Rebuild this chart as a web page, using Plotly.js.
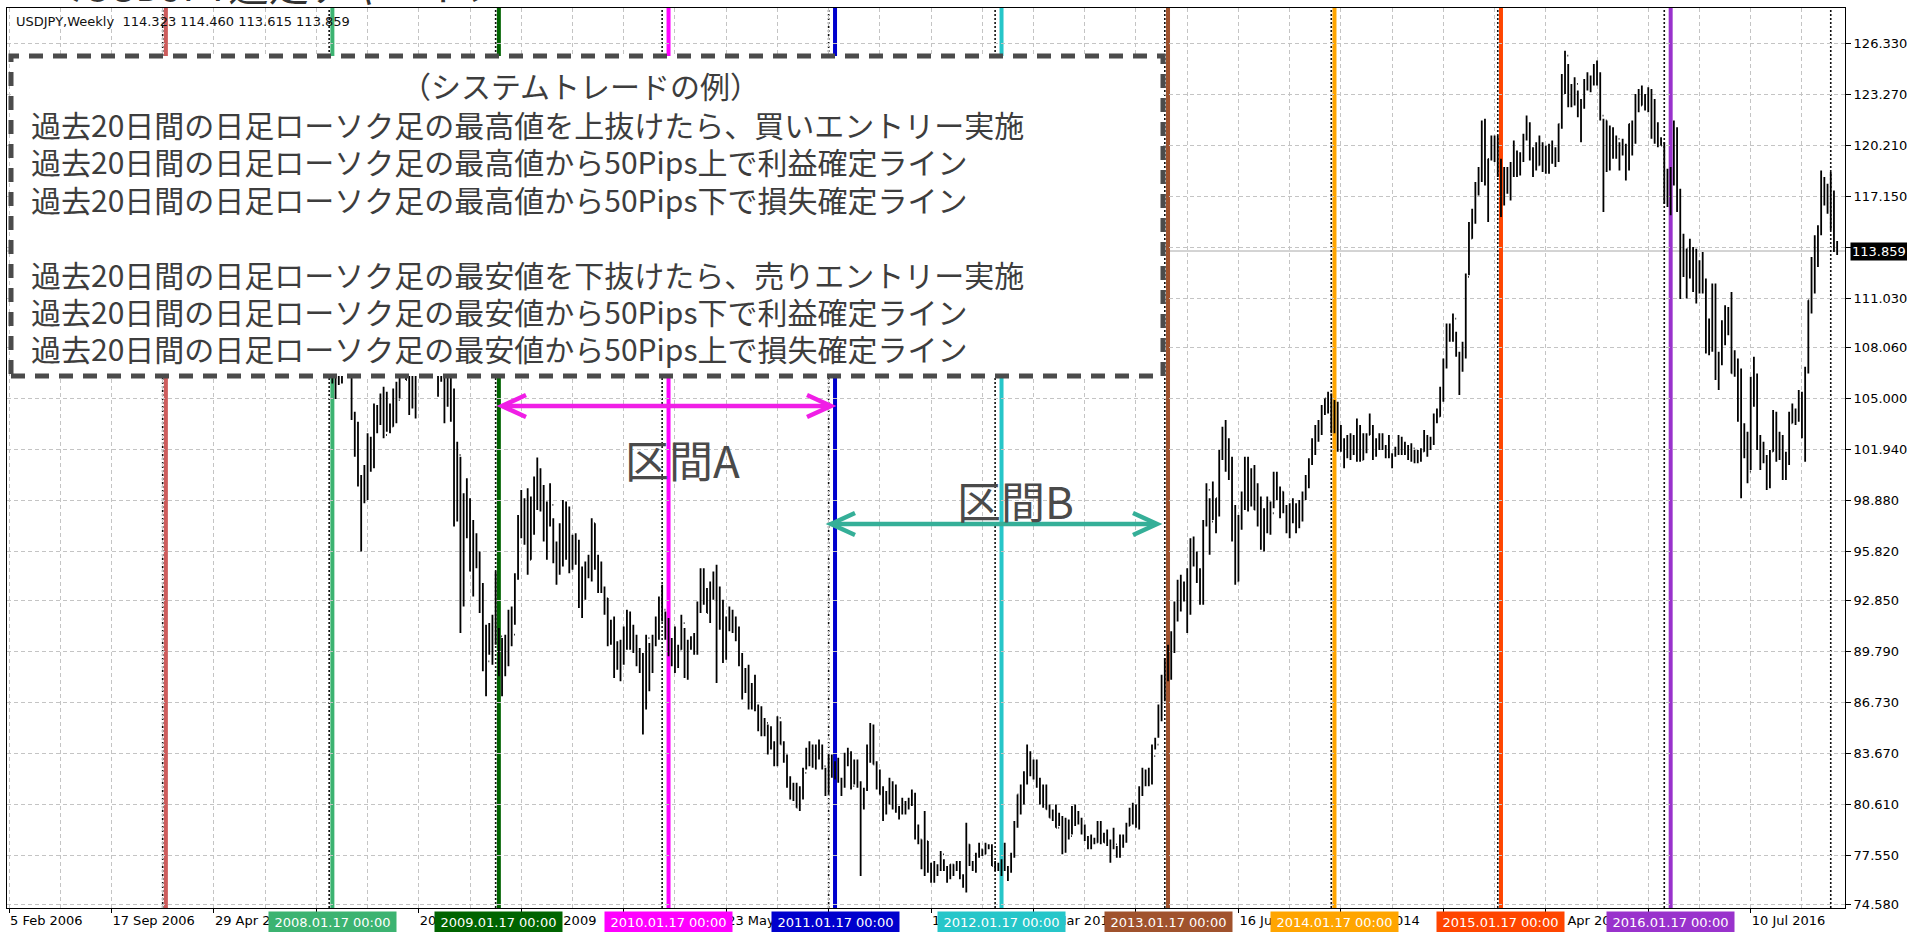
<!DOCTYPE html>
<html>
<head>
<meta charset="utf-8">
<script src="https://cdn.plot.ly/plotly-3.0.1.min.js"></script>
<style>
html,body{margin:0;padding:0;background:#fff;overflow:hidden}
#chart{width:1907px;height:932px}
</style>
</head>
<body>
<div id="chart"></div>
<script>
// ---------------- DATA (USDJPY weekly bars) ----------------
const weekStart = '2008-01-06';   // date of the first weekly bar below
const firstOpen = 109.2;
const weekHigh = [
// 2008
110.2,109.6,107.9,107.3,107.8,108.6,108.3,107.9,104.2,103.6,100.4,101.0,102.9,102.7,104.7,104.6,105.3,105.7,105.4,104.7,105.6,106.0,108.3,108.6,108.3,106.6,107.5,106.8,108.2,108.3,110.2,110.7,110.2,110.0,108.9,108.3,107.7,107.4,106.3,105.6,102.4,101.5,99.3,100.2,99.0,97.7,96.9,95.8,93.9,91.4,91.5,92.0,
// 2009
94.6,91.2,90.6,90.8,92.3,92.5,94.5,98.0,99.5,99.0,99.6,99.1,100.3,101.45,100.8,99.8,98.8,99.9,97.8,96.4,97.5,98.9,98.8,98.5,96.8,96.9,96.5,94.9,95.2,95.6,97.8,97.5,95.6,95.2,93.7,93.0,91.7,91.9,90.4,90.5,91.3,92.3,92.2,91.4,90.8,90.0,89.7,90.8,90.3,90.8,91.9,93.1,
// 2010
93.8,92.2,91.8,90.6,91.3,90.2,92.0,91.2,90.5,90.7,90.9,92.8,94.8,94.8,93.6,94.0,94.6,95.0,93.7,92.9,91.9,92.5,92.3,91.9,91.3,89.7,88.8,89.0,87.9,88.4,86.6,86.5,85.8,85.4,85.3,84.4,85.9,85.6,84.4,83.6,82.3,81.9,81.9,81.7,82.8,84.0,84.4,84.2,84.2,84.5,84.2,82.8,
// 2011
83.6,83.6,83.2,83.4,82.2,83.7,84.0,83.8,83.3,83.3,82.0,81.6,84.2,85.5,85.4,83.2,82.7,81.7,81.4,82.2,82.0,81.8,80.5,81.0,80.8,81.0,81.5,81.3,79.4,78.5,80.2,78.4,77.1,77.2,77.0,77.8,77.3,76.9,77.0,77.0,77.2,77.2,76.4,79.5,78.2,77.2,77.7,78.3,77.9,78.3,78.2,78.2,
// 2012
77.2,77.1,77.3,78.3,76.9,77.7,79.6,81.2,81.8,82.6,84.2,83.8,83.3,83.3,82.2,81.8,81.8,80.6,80.3,80.6,80.1,79.9,79.8,79.7,80.5,80.6,80.2,79.8,79.4,78.7,78.8,78.6,79.6,79.6,78.9,79.1,78.5,79.2,78.1,78.8,78.8,79.5,80.4,80.7,80.6,81.7,82.8,82.7,82.8,84.2,84.6,86.6,
// 2013
88.4,89.4,90.2,91.0,92.8,94.1,94.4,94.0,94.8,96.6,96.7,95.8,94.8,97.7,99.9,99.0,100.0,99.0,101.9,103.3,103.7,102.6,101.5,98.6,98.0,99.4,101.5,101.5,100.8,101.0,99.9,99.1,98.4,99.1,98.8,100.6,100.6,99.7,99.4,98.6,98.7,99.0,98.7,98.9,99.4,100.4,101.4,102.6,103.4,103.7,104.6,105.0,
// 2014
105.4,105.3,104.9,104.8,103.4,102.6,102.8,102.9,102.8,103.8,103.4,102.9,102.9,104.1,103.4,102.6,102.9,102.9,102.2,102.8,101.7,102.1,102.8,102.7,102.4,102.2,102.3,101.9,101.9,102.0,103.1,102.8,102.7,104.1,104.4,105.7,107.4,109.5,109.5,110.1,109.0,107.8,108.4,112.5,115.6,116.4,118.0,118.9,121.7,121.8,119.4,120.8,
// 2015
120.8,120.8,119.4,118.9,118.9,119.2,120.5,119.9,119.8,120.9,122.0,121.6,120.1,120.4,120.8,120.4,120.2,120.3,120.5,120.1,121.5,124.5,125.9,125.1,123.9,124.3,123.5,123.0,124.2,124.6,124.4,125.1,125.3,124.6,121.8,121.7,121.4,121.3,120.8,120.4,120.6,120.3,121.5,121.7,123.3,123.6,123.8,123.3,123.7,123.6,123.0,121.6,
// 2016
120.7,120.4,118.8,118.9,121.7,121.3,117.6,114.9,114.0,114.6,114.1,114.0,113.3,113.8,112.2,109.8,111.9,111.9,107.8,109.7,110.6,110.5,111.4,107.9,107.4,106.8,103.5,103.0,106.3,107.5,106.5,102.8,102.4,101.6,101.9,104.3,104.2,103.0,102.8,101.8,104.2,104.7,104.4,105.5,105.4,106.9,110.9,113.5,114.8,115.4,118.7,118.3,
// 2016-12-25 .. 2017-01-15
117.9,118.6,117.5,114.46
];
const weekLow = [
// 2008
107.5,105.9,104.96,105.8,105.9,107.1,106.9,103.7,101.5,99.7,95.8,98.7,98.9,100.6,100.8,102.9,103.4,102.6,103.0,102.9,103.3,103.5,105.0,107.2,106.1,104.0,104.4,103.8,106.4,107.2,107.5,108.4,108.2,107.7,105.1,106.0,103.5,104.5,103.6,97.3,97.6,90.9,92.5,96.6,94.6,93.1,94.8,92.1,88.6,87.1,89.6,89.0,
// 2009
90.2,88.3,87.1,88.3,88.9,90.1,91.4,94.1,96.6,96.2,94.4,95.3,96.8,98.3,98.2,96.4,95.3,97.3,95.1,93.8,94.4,94.9,95.3,94.5,94.7,95.0,92.4,91.8,92.9,94.2,94.0,94.7,93.3,93.3,92.0,90.1,90.2,88.2,88.7,88.0,89.0,89.9,89.9,89.7,88.9,88.5,84.8,86.3,87.4,88.5,90.1,90.5,
// 2010
91.6,90.5,89.5,88.9,88.5,88.8,89.9,88.2,88.1,89.9,89.6,89.6,92.1,92.6,92.1,91.5,92.9,87.9,91.1,89.1,89.3,91.0,90.9,90.4,88.9,86.9,87.3,86.3,86.3,86.2,85.0,84.7,84.7,83.6,83.9,82.9,82.9,84.2,83.1,81.6,80.9,80.8,80.4,80.2,80.9,82.7,82.9,82.8,82.7,83.3,82.7,81.1,
// 2011
81.2,82.2,82.1,81.9,81.1,81.6,82.9,81.5,81.8,81.6,76.3,80.3,81.4,83.1,83.0,81.5,81.2,79.6,80.0,80.6,80.3,80.1,79.7,80.0,80.0,80.3,80.5,78.5,78.2,76.7,76.3,76.5,75.9,75.9,76.3,76.6,76.6,75.9,76.1,76.3,76.6,76.1,75.6,75.3,76.9,76.6,76.5,77.4,77.5,77.6,77.9,76.9,
// 2012
76.6,76.6,76.3,76.6,76.0,76.5,77.4,79.2,80.0,80.6,81.8,82.3,82.1,81.6,80.6,80.4,80.3,79.8,79.6,79.2,79.3,77.6,77.7,78.5,78.8,79.3,79.4,78.8,78.4,77.9,77.9,78.2,78.3,78.2,78.3,78.1,77.1,77.9,77.4,77.4,78.0,78.3,79.3,79.4,79.2,79.1,81.1,81.7,81.7,81.8,83.9,84.6,
// 2013
85.6,86.8,88.0,88.1,89.7,91.6,92.2,92.8,90.9,92.0,94.9,93.9,92.6,92.6,97.3,95.6,97.7,96.9,97.9,101.3,100.6,100.1,96.4,93.8,94.0,97.1,98.3,98.2,98.5,98.3,97.3,95.9,95.8,96.9,96.8,98.4,98.9,97.8,98.1,96.9,96.6,97.5,96.9,97.2,97.6,98.9,99.6,101.0,101.6,102.4,102.8,104.0,
// 2014
104.1,102.9,102.9,101.8,101.8,100.8,101.4,101.3,101.6,101.2,101.2,101.3,101.7,102.8,101.3,101.5,101.9,101.9,101.4,101.4,100.8,101.5,101.6,101.6,101.6,101.3,101.2,101.1,101.1,101.2,101.8,101.5,101.9,102.2,103.5,103.9,104.8,106.8,108.4,108.4,107.5,105.2,106.6,107.4,112.4,114.6,115.5,117.2,118.0,117.8,115.6,119.3,
// 2015
119.2,118.3,115.9,116.6,117.3,116.9,118.3,118.3,118.4,119.2,120.5,119.3,118.3,118.7,119.0,118.6,118.5,118.5,119.1,118.9,119.2,121.2,123.3,122.5,122.5,122.6,121.9,120.4,122.4,123.5,123.4,123.8,123.8,121.7,116.2,118.6,118.7,119.4,119.4,118.7,119.6,118.1,118.7,119.6,120.3,122.2,122.6,122.3,122.2,120.6,120.3,120.1,
// 2016
120.2,116.7,116.5,116.0,117.8,116.2,110.98,112.3,111.0,112.2,111.4,110.7,111.3,111.3,107.7,107.6,107.8,106.1,105.5,107.0,108.2,108.8,106.5,106.3,103.6,99.0,101.4,99.9,100.7,104.5,101.9,100.7,101.1,99.5,99.6,101.8,101.2,101.3,100.1,100.1,101.0,103.5,103.4,103.6,102.6,101.2,106.5,110.1,111.3,112.9,114.8,116.6,
// 2016-12-25 .. 2017-01-15
116.1,115.1,113.8,113.615
];
const weekClose = [
// 2008
109.3,106.9,106.8,106.5,107.4,107.8,107.0,103.8,102.6,99.9,99.3,99.6,101.9,101.0,103.6,104.4,105.2,102.8,104.6,103.3,105.5,104.9,108.2,107.3,106.1,106.1,105.9,106.9,107.8,107.8,110.0,110.5,110.1,108.8,107.4,107.8,107.4,106.0,105.3,100.5,101.6,94.0,98.5,98.2,96.8,95.6,95.4,93.0,91.3,89.2,90.6,91.9,
// 2009
90.8,90.7,88.8,89.9,92.0,90.8,94.3,97.6,98.2,98.2,95.3,98.0,99.6,100.2,99.2,97.3,98.7,98.6,95.2,94.6,95.4,98.6,98.3,96.0,95.2,95.9,92.8,94.2,94.8,94.7,97.5,94.9,94.4,93.6,93.0,90.7,91.5,89.6,89.4,89.8,90.9,92.0,90.1,89.9,89.9,89.0,86.6,90.6,89.1,90.4,91.6,93.0,
// 2010
92.3,90.8,89.9,90.3,89.2,89.9,91.5,89.0,90.2,90.5,90.5,92.6,94.6,93.2,92.1,93.9,93.8,91.6,92.5,90.0,91.3,91.9,91.6,90.8,89.3,87.7,88.6,86.5,87.4,86.5,85.4,85.2,85.5,84.3,84.2,83.3,85.8,84.2,83.3,82.0,81.4,81.4,80.4,81.3,82.5,83.6,84.1,82.9,83.9,83.9,82.9,81.2,
// 2011
83.2,82.5,82.5,82.1,81.7,83.4,83.1,81.7,82.4,81.9,80.6,81.5,83.9,84.8,83.0,81.8,81.2,80.6,80.8,81.7,80.7,80.4,80.2,80.1,80.4,80.8,80.7,79.1,78.5,76.8,78.4,76.8,76.5,76.6,76.8,77.6,76.7,76.5,77.0,76.7,76.8,76.2,75.8,78.2,77.0,76.9,77.6,77.9,77.6,78.0,78.0,76.9,
// 2012
76.9,76.9,77.0,76.7,76.6,77.6,79.5,81.2,81.1,82.3,83.4,82.4,82.9,81.7,80.9,81.5,80.3,79.8,79.9,79.2,79.7,78.3,79.6,78.7,80.4,79.8,79.6,78.9,78.5,78.2,78.4,78.3,79.5,78.7,78.3,78.3,78.1,78.2,77.9,78.7,78.4,79.3,79.9,80.4,79.5,81.3,82.4,82.5,82.4,83.5,84.2,85.9,
// 2013
88.1,89.2,90.0,90.9,92.7,92.7,93.5,93.4,92.6,96.0,95.3,94.5,94.2,97.5,99.5,97.6,98.0,99.0,101.6,102.2,101.0,100.5,97.5,94.0,97.9,99.1,101.2,99.3,100.4,98.3,98.9,96.2,97.5,98.7,98.1,99.6,99.4,99.4,98.3,97.4,98.6,97.8,97.4,98.7,99.0,100.2,101.3,102.4,102.9,103.2,104.1,105.0,
// 2014
104.8,104.2,104.3,102.3,102.0,102.3,101.8,101.9,101.8,103.3,101.3,102.3,102.8,103.3,101.6,102.4,102.2,102.1,101.8,101.5,101.6,101.8,102.5,102.0,102.0,101.4,102.0,101.3,101.3,101.8,102.6,102.0,102.4,103.8,103.9,105.1,107.3,109.0,109.3,109.8,107.6,106.9,108.1,112.3,114.6,116.2,117.7,118.6,121.4,118.8,119.4,120.5,
// 2015
120.5,118.5,117.5,117.7,117.5,119.1,118.6,119.0,119.6,120.8,121.4,120.0,119.1,119.0,120.2,118.9,118.9,120.2,119.8,119.4,121.5,124.1,125.6,123.4,122.7,123.9,122.8,122.8,124.1,123.8,123.9,124.2,124.3,122.0,121.7,119.0,120.6,120.0,120.6,119.9,120.2,119.4,121.5,120.6,123.2,122.6,122.8,122.8,123.2,121.0,121.2,120.3,
// 2016
120.2,117.2,117.0,118.8,121.1,116.8,112.6,112.6,114.0,113.8,113.8,111.5,113.1,111.7,108.1,108.8,111.8,106.5,107.1,108.6,110.1,110.3,106.5,107.0,104.1,102.2,102.5,100.6,104.9,106.1,102.1,101.8,101.3,100.2,101.8,103.9,102.6,102.3,101.0,101.3,103.5,104.2,103.8,104.7,103.1,106.7,110.9,113.2,113.5,115.2,117.9,117.2,
// 2016-12-25 .. 2017-01-15
117.0,116.9,114.323,113.859
];

// price axis ticks
const yTickVals = [74.58,77.55,80.61,83.67,86.73,89.79,92.85,95.82,98.88,101.94,105.00,108.06,111.03,114.09,117.15,120.21,123.27,126.33];
// time axis labels
const xTickDates = ['2006-02-05','2006-09-17','2007-04-29','2007-12-09','2008-07-20','2009-03-01','2009-10-11','2010-05-23','2011-01-02','2011-08-14','2012-03-25','2012-11-04','2013-06-16','2014-01-26','2014-09-07','2015-04-19','2015-11-29','2016-07-10'];
const xTickLabels = ['5 Feb 2006','17 Sep 2006','29 Apr 2007','9 Dec 2007','20 Jul 2008','1 Mar 2009','11 Oct 2009','23 May 2010','2 Jan 2011','14 Aug 2011','25 Mar 2012','4 Nov 2012','16 Jun 2013','26 Jan 2014','7 Sep 2014','19 Apr 2015','29 Nov 2015','10 Jul 2016'];
// labels that the coloured date boxes cover completely in the reference
const coveredTickLabels = ['9 Dec 2007','2 Jan 2011','4 Nov 2012','7 Sep 2014','29 Nov 2015'];
// yearly vertical lines (bar of 17 Jan) and their labels
const yearLineDates = ['2007-01-14','2008-01-13','2009-01-11','2010-01-17','2011-01-16','2012-01-15','2013-01-13','2014-01-12','2015-01-11','2016-01-17'];
const yearLineLabels = ['','2008.01.17 00:00','2009.01.17 00:00','2010.01.17 00:00','2011.01.17 00:00','2012.01.17 00:00','2013.01.17 00:00','2014.01.17 00:00','2015.01.17 00:00','2016.01.17 00:00'];
const yearLineColors = ['#CD5C5C','#3CB371','#006400','#FF00FF','#0000CD','#26C6C9','#A0522D','#FFA500','#FF4500','#9932CC'];
// period separators (first bar of each year)
const separatorDates = ['2007-01-07','2008-01-06','2009-01-04','2010-01-03','2011-01-02','2012-01-01','2013-01-06','2014-01-05','2015-01-04','2016-01-03','2017-01-01'];
// texts
const symbolTitle = 'USDJPY,Weekly';
const pageTitle = '＜USDJPY週足チャート＞';
const boxTitle = '（システムトレードの例）';
const boxLines = [
 '過去20日間の日足ローソク足の最高値を上抜けたら、買いエントリー実施',
 '過去20日間の日足ローソク足の最高値から50Pips上で利益確定ライン',
 '過去20日間の日足ローソク足の最高値から50Pips下で損失確定ライン',
 '',
 '過去20日間の日足ローソク足の最安値を下抜けたら、売りエントリー実施',
 '過去20日間の日足ローソク足の最安値から50Pips下で利益確定ライン',
 '過去20日間の日足ローソク足の最安値から50Pips上で損失確定ライン'
];
const intervalLabels = ['区間A','区間B'];

// ---------------- BUILD ----------------
const DAY = 86400000;
const isoDate = ms => new Date(ms).toISOString().slice(0,10);
const isoTime = ms => new Date(ms).toISOString().slice(0,19).replace('T',' ');
const startMs = Date.parse(weekStart + 'T00:00:00Z');
const dates = weekClose.map((_, i) => isoDate(startMs + i * 7 * DAY));
const opens = weekClose.map((_, i) => i === 0 ? firstOpen : weekClose[i - 1]);
const n = weekClose.length;
const lastO = opens[n-1], lastH = weekHigh[n-1], lastL = weekLow[n-1], lastC = weekClose[n-1];

// plot frame in page pixels
const PL = 7, PR = 1845, PT = 8, PB = 908;
const px = x => (x - PL) / (PR - PL);
const py = y => (PB - y) / (PB - PT);

const axisBase = Date.parse('2006-02-05T00:00:00Z');
const xRange = [isoTime(axisBase - 0.625 * 7 * DAY), isoTime(axisBase + 573.45 * 7 * DAY)];

const trace = {
  type: 'ohlc', x: dates, open: opens, high: weekHigh, low: weekLow, close: weekClose,
  increasing: {line: {color: '#000', width: 1.8}},
  decreasing: {line: {color: '#000', width: 1.8}},
  tickwidth: 0.25, hoverinfo: 'skip', showlegend: false
};

const shapes = [];
shapes.push({type:'line', xref:'paper', x0:0, x1:1, yref:'y', y0:lastC, y1:lastC,
  line:{color:'#a8a8a8', width:1}, layer:'between'});
separatorDates.forEach(d => shapes.push({type:'line', xref:'x', x0:d, x1:d, yref:'paper', y0:0, y1:1,
  line:{color:'#111', width:1.6, dash:'2px,2px'}, layer:'between'}));
yearLineDates.forEach((d, i) => shapes.push({type:'line', xref:'x', x0:d, x1:d, yref:'paper', y0:0, y1:1,
  line:{color:yearLineColors[i], width:4}, layer:'between'}));
// explanation box
shapes.push({type:'rect', xref:'paper', yref:'paper', x0:px(11), x1:px(1163), y0:py(376), y1:py(56),
  fillcolor:'#ffffff', line:{color:'#4b4b4b', width:5, dash:'14px,10px'}, layer:'above'});
// interval arrows
function addArrow(xa, xb, y, color) {
  shapes.push({type:'line', xref:'paper', yref:'paper', x0:px(xa + 2), x1:px(xb - 2), y0:py(y), y1:py(y),
    line:{color:color, width:4.5}, layer:'above'});
  shapes.push({type:'path', xref:'paper', yref:'paper',
    path:`M${px(xa + 24)},${py(y - 11)} L${px(xa)},${py(y)} L${px(xa + 24)},${py(y + 11)}`,
    line:{color:color, width:4.5}, layer:'above'});
  shapes.push({type:'path', xref:'paper', yref:'paper',
    path:`M${px(xb - 24)},${py(y - 11)} L${px(xb)},${py(y)} L${px(xb - 24)},${py(y + 11)}`,
    line:{color:color, width:4.5}, layer:'above'});
}
addArrow(502, 831, 406, '#F01EE6');
addArrow(831, 1157, 524, '#35AF98');

const annotations = [];
// clipped page title at the very top
annotations.push({xref:'paper', yref:'paper', x:px(41), y:py(15), xanchor:'left', yanchor:'bottom',
  text:pageTitle, showarrow:false, font:{family:'Noto Sans CJK JP', size:40, color:'#333'}});
// symbol header
annotations.push({xref:'paper', yref:'paper', x:px(14), y:py(21.5), xanchor:'left', yanchor:'middle',
  text:`${symbolTitle}\u00a0 ${lastO.toFixed(3)} ${lastH.toFixed(3)} ${lastL.toFixed(3)} ${lastC.toFixed(3)}`,
  showarrow:false, font:{family:'DejaVu Sans', size:13, color:'#111'}});
// current price label
annotations.push({xref:'paper', x:1, xshift:5, yref:'y', y:lastC, xanchor:'left', yanchor:'middle',
  text:lastC.toFixed(3), showarrow:false, bgcolor:'#000', borderpad:1,
  font:{family:'DejaVu Sans', size:13, color:'#fff'}});
// yearly line labels
yearLineDates.forEach((d, i) => {
  if (!yearLineLabels[i]) return;
  annotations.push({xref:'x', x:d, yref:'paper', y:py(922), xanchor:'center', yanchor:'middle',
    text:yearLineLabels[i], showarrow:false, bgcolor:yearLineColors[i], borderpad:3, width:121, height:15,
    font:{family:'DejaVu Sans', size:13, color:'#fff'}});
});
// box texts
annotations.push({xref:'paper', yref:'paper', x:px(580), y:py(85), xanchor:'center', yanchor:'middle',
  text:boxTitle, showarrow:false, font:{family:'Noto Sans CJK JP', size:30, color:'#3d3d3d'}});
boxLines.forEach((t, i) => {
  if (!t) return;
  annotations.push({xref:'paper', yref:'paper', x:px(29), y:py(124 + 37.4 * i), xanchor:'left', yanchor:'middle',
    text:t, showarrow:false, font:{family:'Noto Sans CJK JP', size:30, color:'#3d3d3d'}});
});
// interval labels
annotations.push({xref:'paper', yref:'paper', x:px(682), y:py(459), xanchor:'center', yanchor:'middle',
  text:intervalLabels[0], showarrow:false, font:{family:'Noto Sans CJK JP', size:44, color:'#4a4a4a'}});
annotations.push({xref:'paper', yref:'paper', x:px(1015), y:py(500), xanchor:'center', yanchor:'middle',
  text:intervalLabels[1], showarrow:false, font:{family:'Noto Sans CJK JP', size:44, color:'#4a4a4a'}});

const gridStyle = {gridcolor:'#c4c4c4', griddash:'4px,3px', gridwidth:1};
const layout = {
  width:1907, height:932,
  margin:{l:PL, r:1907 - PR, t:PT, b:932 - PB, pad:0},
  paper_bgcolor:'#ffffff', plot_bgcolor:'#ffffff',
  showlegend:false,
  font:{family:'DejaVu Sans, sans-serif', size:13, color:'#000'},
  xaxis:Object.assign({
    type:'date', range:xRange, tickmode:'array', tickvals:xTickDates,
    ticktext:xTickLabels.map(t => coveredTickLabels.includes(t) ? '' : t),
    ticks:'outside', ticklen:4, tickcolor:'#000', tickangle:0, ticklabelposition:'outside right',
    tickfont:{family:'DejaVu Sans', size:13, color:'#000'},
    showgrid:true, showline:true, mirror:true, linecolor:'#000', linewidth:1, zeroline:false,
    rangeslider:{visible:false}, fixedrange:true,
    minor:Object.assign({tick0:'2006-02-05', dtick:16 * 7 * DAY, showgrid:true, ticklen:0}, gridStyle)
  }, gridStyle),
  yaxis:Object.assign({
    side:'right', range:[74.376, 128.462], tickmode:'array', tickvals:yTickVals,
    // the label nearest the current price is hidden behind the price box
    ticktext:yTickVals.map(v => Math.abs(v - lastC) < 1 ? '' : v.toFixed(3)),
    ticks:'outside', ticklen:5, tickcolor:'#000',
    tickfont:{family:'DejaVu Sans', size:13, color:'#000'},
    showgrid:true, showline:true, mirror:true, linecolor:'#000', linewidth:1, zeroline:false, fixedrange:true
  }, gridStyle),
  shapes:shapes,
  annotations:annotations
};

Plotly.newPlot('chart', [trace], layout, {staticPlot:true, displayModeBar:false});
</script>
</body>
</html>
